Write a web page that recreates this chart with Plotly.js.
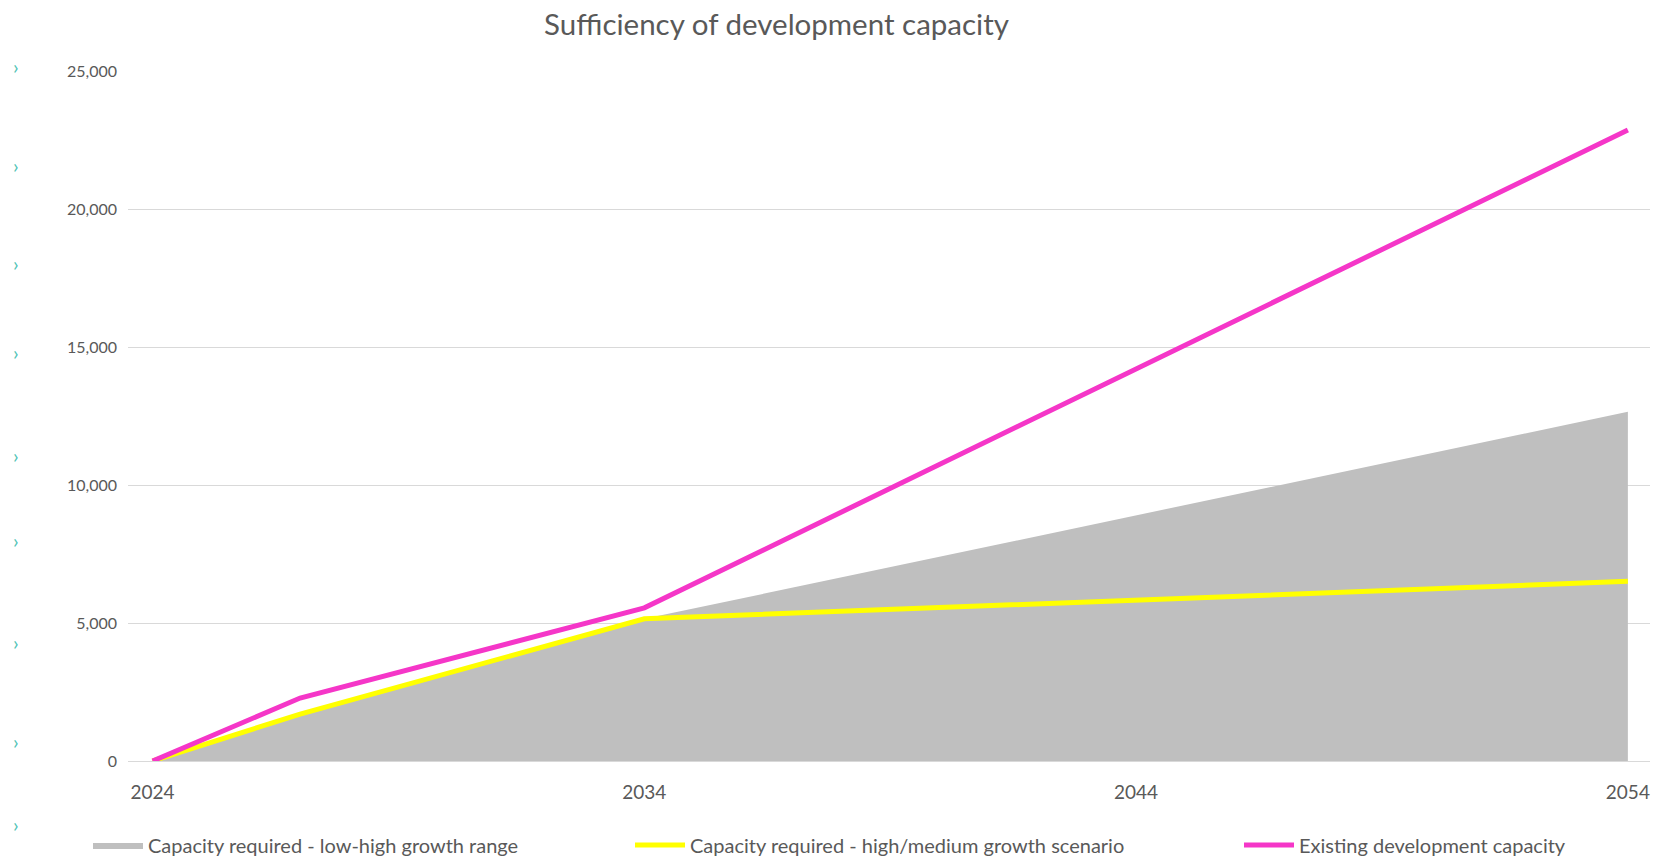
<!DOCTYPE html>
<html>
<head>
<meta charset="utf-8">
<script src="https://cdn.plot.ly/plotly-3.0.1.min.js"></script>
<style>html,body{margin:0;padding:0;background:#fff;}#chart{width:1661px;height:859px;}</style>
</head>
<body>
<div id="chart"></div>
<script>
// Data
const years = [2024, 2027, 2034, 2044, 2054];
const rangeHigh = [0, 1650, 5150, 8900, 12650];      // Capacity required - low-high growth range (upper edge)
const highMedium = [0, 1700, 5150, 5830, 6510];      // Capacity required - high/medium growth scenario
const existing = [0, 2280, 5550, 14200, 22860];      // Existing development capacity
const xTicks = [2024, 2034, 2044, 2054];
const names = [
  'Capacity required - low-high growth range',
  'Capacity required - high/medium growth scenario',
  'Existing development capacity'
];
const chevronY = [60, 159, 257, 360, 463, 562, 664, 763, 847];

const FONT = 'Lato, "Open Sans", sans-serif';
const TXT = '#595959';

const traces = [
  {x: years, y: rangeHigh, name: names[0], type: 'scatter', mode: 'lines',
   fill: 'tozeroy', fillcolor: '#bfbfbf', line: {width: 0, color: '#bfbfbf'}, legend: 'legend'},
  {x: years, y: highMedium, name: names[1], type: 'scatter', mode: 'lines',
   line: {width: 5, color: '#ffff00'}, legend: 'legend2'},
  {x: years, y: existing, name: names[2], type: 'scatter', mode: 'lines',
   line: {width: 5, color: '#f536c8'}, legend: 'legend3'}
];

const legBase = {orientation: 'h', yref: 'container', yanchor: 'middle', y: 1 - 845 / 859, xanchor: 'left',
  font: {family: FONT, size: 20, color: TXT}, itemwidth: 50, bgcolor: 'rgba(0,0,0,0)'};

const annotations = chevronY.map(v => ({
  xref: 'paper', yref: 'paper', x: (11 - 128) / 1522, y: 1 - (v - 8 - 71) / 690.5,
  text: '›', showarrow: false, font: {family: FONT, size: 20, color: '#4fc3b5'}
}));

const layout = {
  width: 1661, height: 859,
  margin: {l: 128, r: 11, t: 71, b: 98, autoexpand: false},
  paper_bgcolor: '#ffffff', plot_bgcolor: '#ffffff',
  title: {text: 'Sufficiency of development capacity', x: 0.4675, xanchor: 'center',
          y: 0.971, yanchor: 'middle', font: {family: FONT, size: 29.5, color: TXT}},
  xaxis: {range: [2023.5, 2054.45], tickvals: xTicks, ticktext: xTicks.map(String), automargin: false,
          showgrid: false, zeroline: false, showline: true, linecolor: '#d9d9d9', linewidth: 1,
          ticks: '', ticklabelstandoff: 14, tickfont: {family: FONT, size: 19, color: TXT}, fixedrange: true},
  yaxis: {range: [0, 25000], dtick: 5000, tickformat: ',', showgrid: true, gridcolor: '#d9d9d9', automargin: false,
          zeroline: false, showline: false, ticks: '', ticklabelstandoff: 10,
          tickfont: {family: FONT, size: 16, color: TXT}, fixedrange: true},
  showlegend: true,
  legend: Object.assign({}, legBase, {x: (88 - 128) / 1522}),
  legend2: Object.assign({}, legBase, {x: (630 - 128) / 1522}),
  legend3: Object.assign({}, legBase, {x: (1239 - 128) / 1522}),
  annotations: annotations
};

Plotly.newPlot('chart', traces, layout, {displayModeBar: false, staticPlot: true});
</script>
</body>
</html>
